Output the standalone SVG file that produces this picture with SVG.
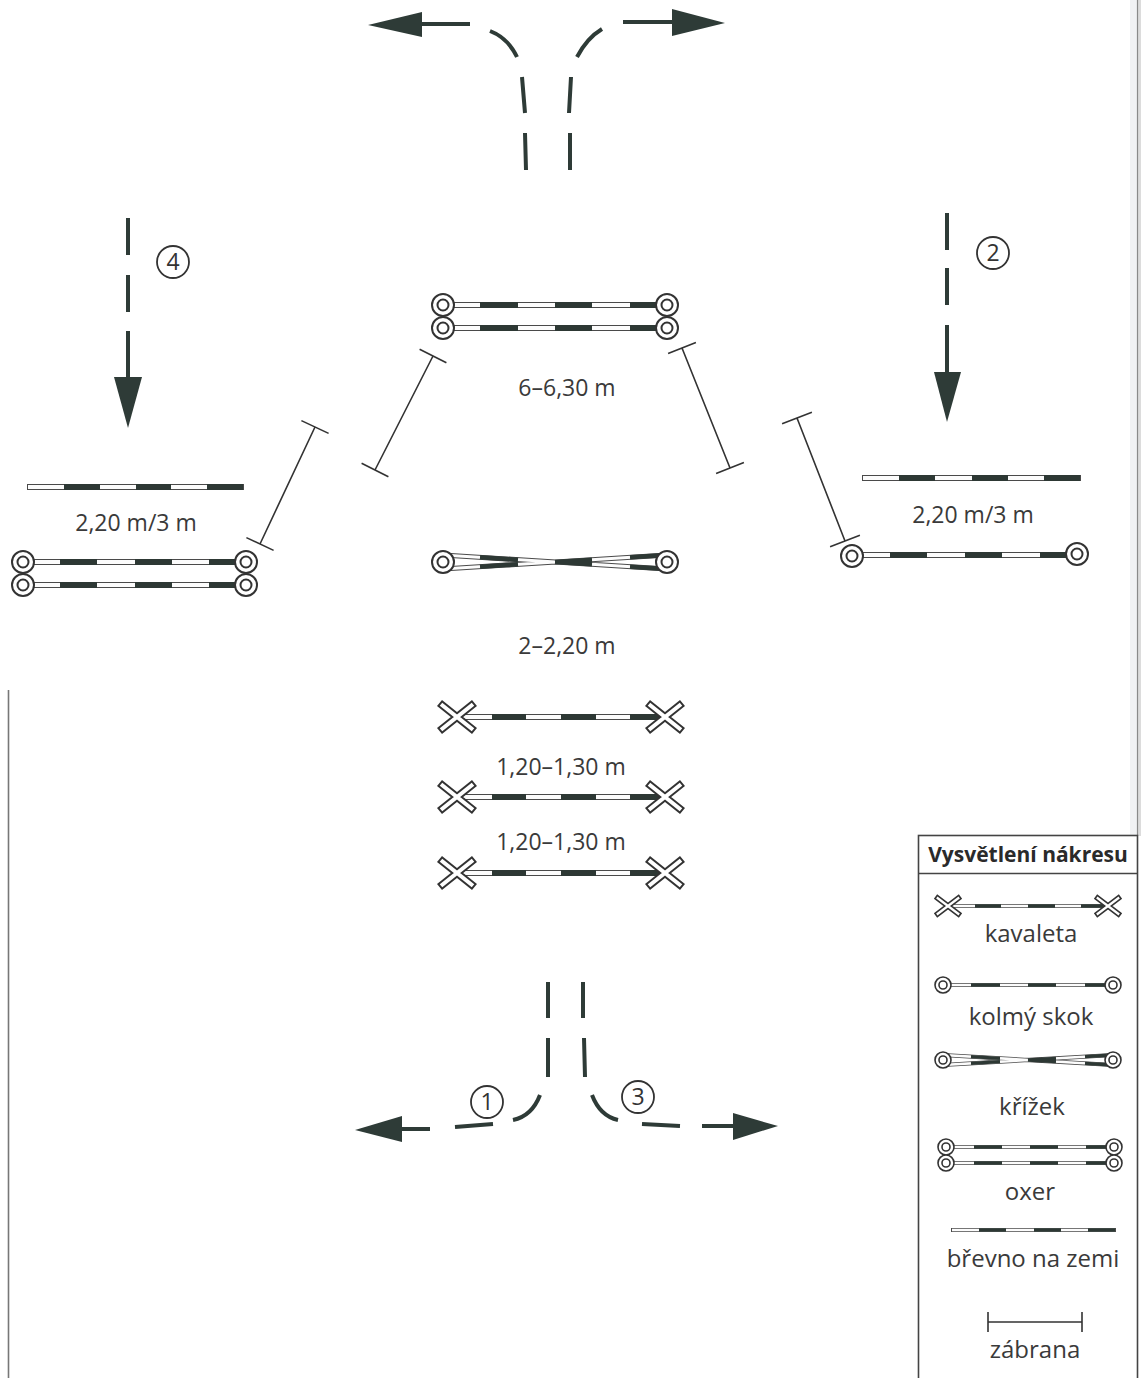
<svg xmlns="http://www.w3.org/2000/svg" width="1141" height="1378" viewBox="0 0 1141 1378">
<style>
.po{stroke:#4a4a4a;stroke-width:6;fill:none}
.pi{stroke:#fcfcfc;stroke-width:4.2;fill:none}
.pd{stroke:#2d3834;stroke-width:6;fill:none}
.cpo{stroke:#4a4a4a;stroke-width:5;fill:none}
.cpi{stroke:#fcfcfc;stroke-width:3;fill:none}
.cpd{stroke:#2d3834;stroke-width:4.5;fill:none}
.spo{stroke:#4a4a4a;stroke-width:4.2;fill:none}
.spi{stroke:#fcfcfc;stroke-width:2.6;fill:none}
.spd{stroke:#2d3834;stroke-width:3.4;fill:none}
.post{fill:#fff;stroke:#333;stroke-width:2}
.spost{fill:#fff;stroke:#333;stroke-width:1.6}
.xo{stroke:#333;stroke-width:8;fill:none}
.xi{stroke:#fff;stroke-width:4;fill:none}
.sxo{stroke:#333;stroke-width:5.5;fill:none}
.sxi{stroke:#fff;stroke-width:2.2;fill:none}
.zab{stroke:#333;stroke-width:1.6;fill:none}
.dash{stroke:#2e3b37;stroke-width:4;fill:none;stroke-linecap:butt}
.head{fill:#2e3b37}
.num{fill:none;stroke:#333;stroke-width:1.8}
.lb{font-family:"Open Sans","Noto Sans","Liberation Sans",sans-serif;font-size:23px;fill:#3a3a3a;text-anchor:middle}
.lg{font-family:"Open Sans","Noto Sans","Liberation Sans",sans-serif;font-size:24px;fill:#3a3a3a;text-anchor:middle}
.nt{font-family:"Open Sans","Noto Sans","Liberation Sans",sans-serif;font-size:23px;fill:#333;text-anchor:middle}
.hd{font-family:"Open Sans","Noto Sans","Liberation Sans",sans-serif;font-size:21px;font-weight:bold;fill:#2a2a2a;text-anchor:middle}
</style>
<rect width="1141" height="1378" fill="#fff"/>
<g id="page-edges">
<rect x="1130" y="0" width="7" height="836" fill="#f1f2f4"/>
<rect x="1138" y="0" width="3" height="836" fill="#dcdcdc"/>
<line x1="1137.5" y1="0" x2="1137.5" y2="836" stroke="#8a8a8a" stroke-width="1.2"/>
<line x1="8.5" y1="690" x2="8.5" y2="1378" stroke="#777" stroke-width="1.6"/>
</g>

<g id="connectors">
<path class="dash" d="M526 170 L525 133 M525 113 L522 77 M517 57 Q508 38 490 31 M470 24 L422 24"/>
<polygon class="head" points="368,25 422,12 422,37"/>
<path class="dash" d="M570 170 L570 133 M569 113 L571 77 M577 57 Q587 38 602 29 M623 22 L672 22"/>
<polygon class="head" points="725,23 672,9 672,36"/>
<path class="dash" d="M128 218 V255 M128 275 V312 M128 331 V377"/>
<polygon class="head" points="114,377 142,377 128,428"/>
<path class="dash" d="M947 213 V250 M947 268 V305 M947 325 V372"/>
<polygon class="head" points="934,372 961,372 947,422"/>
<path class="dash" d="M548 982 V1018 M548 1038 V1077 M540 1095 Q532 1116 513 1120 M493 1124 L455 1127 M430 1129 L402 1129"/>
<polygon class="head" points="402,1116 402,1142 355,1130"/>
<path class="dash" d="M583 982 V1018 M584 1038 L585 1077 M592 1095 Q600 1116 618 1120 M642 1124 L680 1126 M702 1126 L733 1126"/>
<polygon class="head" points="733,1113 733,1140 778,1126"/>
</g>

<g id="num-4"><circle class="num" cx="173" cy="262" r="16"/><text class="nt" x="173" y="270">4</text></g>
<g id="num-2"><circle class="num" cx="993" cy="253" r="16"/><text class="nt" x="993" y="261">2</text></g>
<g id="num-1"><circle class="num" cx="487" cy="1102" r="16"/><text class="nt" x="487" y="1110">1</text></g>
<g id="num-3"><circle class="num" cx="638" cy="1097" r="16"/><text class="nt" x="638" y="1105">3</text></g>

<g id="oxer-top">
<path class="po" d="M443 305H667M443 328H667"/><path class="pi" d="M443 305H667M443 328H667"/>
<path class="pd" d="M480 305H518M555 305H592M630 305H667M480 328H518M555 328H592M630 328H667"/>
<circle class="post" cx="443" cy="305" r="11"/><circle class="post" cx="443" cy="305" r="5.5"/>
<circle class="post" cx="667" cy="305" r="11"/><circle class="post" cx="667" cy="305" r="5.5"/>
<circle class="post" cx="443" cy="328" r="11"/><circle class="post" cx="443" cy="328" r="5.5"/>
<circle class="post" cx="667" cy="328" r="11"/><circle class="post" cx="667" cy="328" r="5.5"/>
</g>

<g id="pole-left">
<path class="po" d="M27 487H244"/><path class="pi" d="M28 487H243"/>
<path class="pd" d="M64 487H100M136 487H171M207 487H243"/>
</g>
<g id="oxer-left">
<path class="po" d="M23 562H246M23 585H246"/><path class="pi" d="M23 562H246M23 585H246"/>
<path class="pd" d="M60 562H97M135 562H172M209 562H246M60 585H97M135 585H172M209 585H246"/>
<circle class="post" cx="23" cy="562" r="11"/><circle class="post" cx="23" cy="562" r="5.5"/>
<circle class="post" cx="246" cy="562" r="11"/><circle class="post" cx="246" cy="562" r="5.5"/>
<circle class="post" cx="23" cy="585" r="11"/><circle class="post" cx="23" cy="585" r="5.5"/>
<circle class="post" cx="246" cy="585" r="11"/><circle class="post" cx="246" cy="585" r="5.5"/>
</g>

<g id="pole-right">
<path class="po" d="M862 478H1081"/><path class="pi" d="M863 478H1080"/>
<path class="pd" d="M899 478H935M972 478H1008M1044 478H1080"/>
</g>
<g id="vertical-right">
<path class="po" d="M852 555H1077"/><path class="pi" d="M852 555H1077"/>
<path class="pd" d="M890 555H927M965 555H1002M1040 555H1077"/>
<circle class="post" cx="852" cy="556" r="11"/><circle class="post" cx="852" cy="556" r="5.5"/>
<circle class="post" cx="1077" cy="554" r="11"/><circle class="post" cx="1077" cy="554" r="5.5"/>
</g>

<g id="cross">
<path class="cpo" d="M443 555L667 569M443 569L667 555"/>
<path class="cpi" d="M443 555L667 569M443 569L667 555"/>
<path class="cpd" d="M480 557.3L518 559.7M555 562L592 564.3M630 566.7L667 569M480 566.7L518 564.3M555 562L592 559.7M630 557.3L667 555"/>
<circle class="post" cx="443" cy="562" r="11"/><circle class="post" cx="443" cy="562" r="5.5"/>
<circle class="post" cx="667" cy="562" r="11"/><circle class="post" cx="667" cy="562" r="5.5"/>
</g>

<g id="kavaleta-1">
<path class="po" d="M457 717H665"/><path class="pi" d="M457 717H665"/>
<path class="pd" d="M492 717H526M561 717H596M630 717H665"/>
<path class="xo" d="M439.5 703L474.5 731M439.5 731L474.5 703M647.5 703L682.5 731M647.5 731L682.5 703"/>
<path class="xi" d="M441 704.2L473 729.8M441 729.8L473 704.2M649 704.2L681 729.8M649 729.8L681 704.2"/>
</g>
<g id="kavaleta-2">
<path class="po" d="M457 797H665"/><path class="pi" d="M457 797H665"/>
<path class="pd" d="M492 797H526M561 797H596M630 797H665"/>
<path class="xo" d="M439.5 783L474.5 811M439.5 811L474.5 783M647.5 783L682.5 811M647.5 811L682.5 783"/>
<path class="xi" d="M441 784.2L473 809.8M441 809.8L473 784.2M649 784.2L681 809.8M649 809.8L681 784.2"/>
</g>
<g id="kavaleta-3">
<path class="po" d="M457 873H665"/><path class="pi" d="M457 873H665"/>
<path class="pd" d="M492 873H526M561 873H596M630 873H665"/>
<path class="xo" d="M439.5 859L474.5 887M439.5 887L474.5 859M647.5 859L682.5 887M647.5 887L682.5 859"/>
<path class="xi" d="M441 860.2L473 885.8M441 885.8L473 860.2M649 860.2L681 885.8M649 885.8L681 860.2"/>
</g>

<g id="barriers">
<path class="zab" d="M315 427L260 544M301.4 420.6L328.6 433.4M246.4 537.6L273.6 550.4"/>
<path class="zab" d="M433 356L375 470M419.6 349.2L446.4 362.8M361.6 463.2L388.4 476.8"/>
<path class="zab" d="M682 348L730 468M668.1 353.6L695.9 342.4M716.1 473.6L743.9 462.4"/>
<path class="zab" d="M797 418L845 541M782.1 423.8L811.9 412.2M830.1 546.8L859.9 535.2"/>
</g>

<g id="labels">
<text class="lb" x="567" y="396">6–6,30 m</text>
<text class="lb" x="136" y="531">2,20 m/3 m</text>
<text class="lb" x="973" y="523">2,20 m/3 m</text>
<text class="lb" x="567" y="654">2–2,20 m</text>
<text class="lb" x="561" y="775">1,20–1,30 m</text>
<text class="lb" x="561" y="850">1,20–1,30 m</text>
</g>

<g id="legend">
<rect x="918.5" y="835.5" width="219" height="560" fill="#fff" stroke="#444" stroke-width="1.6"/>
<line x1="918.5" y1="873.5" x2="1137.5" y2="873.5" stroke="#444" stroke-width="1.6"/>
<text class="hd" x="1028" y="862">Vysvětlení nákresu</text>

<g id="legend-kavaleta">
<path class="spo" d="M948 906H1108"/><path class="spi" d="M948 906H1108"/>
<path class="spd" d="M975 906H1001M1028 906H1055M1081 906H1108"/>
<path class="sxo" d="M935.5 896.5L960.5 915.5M935.5 915.5L960.5 896.5M1095.5 896.5L1120.5 915.5M1095.5 915.5L1120.5 896.5"/>
<path class="sxi" d="M936.8 897.5L959.2 914.5M936.8 914.5L959.2 897.5M1096.8 897.5L1119.2 914.5M1096.8 914.5L1119.2 897.5"/>
<text class="lg" x="1031" y="942">kavaleta</text>
</g>
<g id="legend-kolmy">
<path class="spo" d="M943 985H1113"/><path class="spi" d="M943 985H1113"/>
<path class="spd" d="M971 985H1000M1028 985H1056M1085 985H1113"/>
<circle class="spost" cx="943" cy="985" r="8"/><circle class="spost" cx="943" cy="985" r="4"/>
<circle class="spost" cx="1113" cy="985" r="8"/><circle class="spost" cx="1113" cy="985" r="4"/>
<text class="lg" x="1031" y="1025">kolmý skok</text>
</g>
<g id="legend-krizek">
<path class="spo" d="M943 1055L1113 1065M943 1065L1113 1055"/>
<path class="spi" d="M943 1055L1113 1065M943 1065L1113 1055"/>
<path class="spd" d="M971 1056.6L1000 1058.4M1028 1060L1056 1061.6M1085 1063.4L1113 1065M971 1063.4L1000 1061.6M1028 1060L1056 1058.4M1085 1056.6L1113 1055"/>
<circle class="spost" cx="943" cy="1060" r="8"/><circle class="spost" cx="943" cy="1060" r="4"/>
<circle class="spost" cx="1113" cy="1060" r="8"/><circle class="spost" cx="1113" cy="1060" r="4"/>
<text class="lg" x="1032" y="1115">křížek</text>
</g>
<g id="legend-oxer">
<path class="spo" d="M946 1147H1114M946 1163H1114"/><path class="spi" d="M946 1147H1114M946 1163H1114"/>
<path class="spd" d="M974 1147H1002M1030 1147H1058M1086 1147H1114M974 1163H1002M1030 1163H1058M1086 1163H1114"/>
<circle class="spost" cx="946" cy="1147" r="8"/><circle class="spost" cx="946" cy="1147" r="4"/>
<circle class="spost" cx="1114" cy="1147" r="8"/><circle class="spost" cx="1114" cy="1147" r="4"/>
<circle class="spost" cx="946" cy="1163" r="8"/><circle class="spost" cx="946" cy="1163" r="4"/>
<circle class="spost" cx="1114" cy="1163" r="8"/><circle class="spost" cx="1114" cy="1163" r="4"/>
<text class="lg" x="1030" y="1200">oxer</text>
</g>
<g id="legend-brevno">
<path class="spo" d="M951 1230H1116"/><path class="spi" d="M952 1230H1115"/>
<path class="spd" d="M979 1230H1006M1034 1230H1061M1088 1230H1115"/>
<text class="lg" x="1033" y="1267">břevno na zemi</text>
</g>
<g id="legend-zabrana">
<path class="zab" d="M988 1322H1082M988 1312V1332M1082 1312V1332"/>
<text class="lg" x="1035" y="1358">zábrana</text>
</g>
</g>
</svg>
